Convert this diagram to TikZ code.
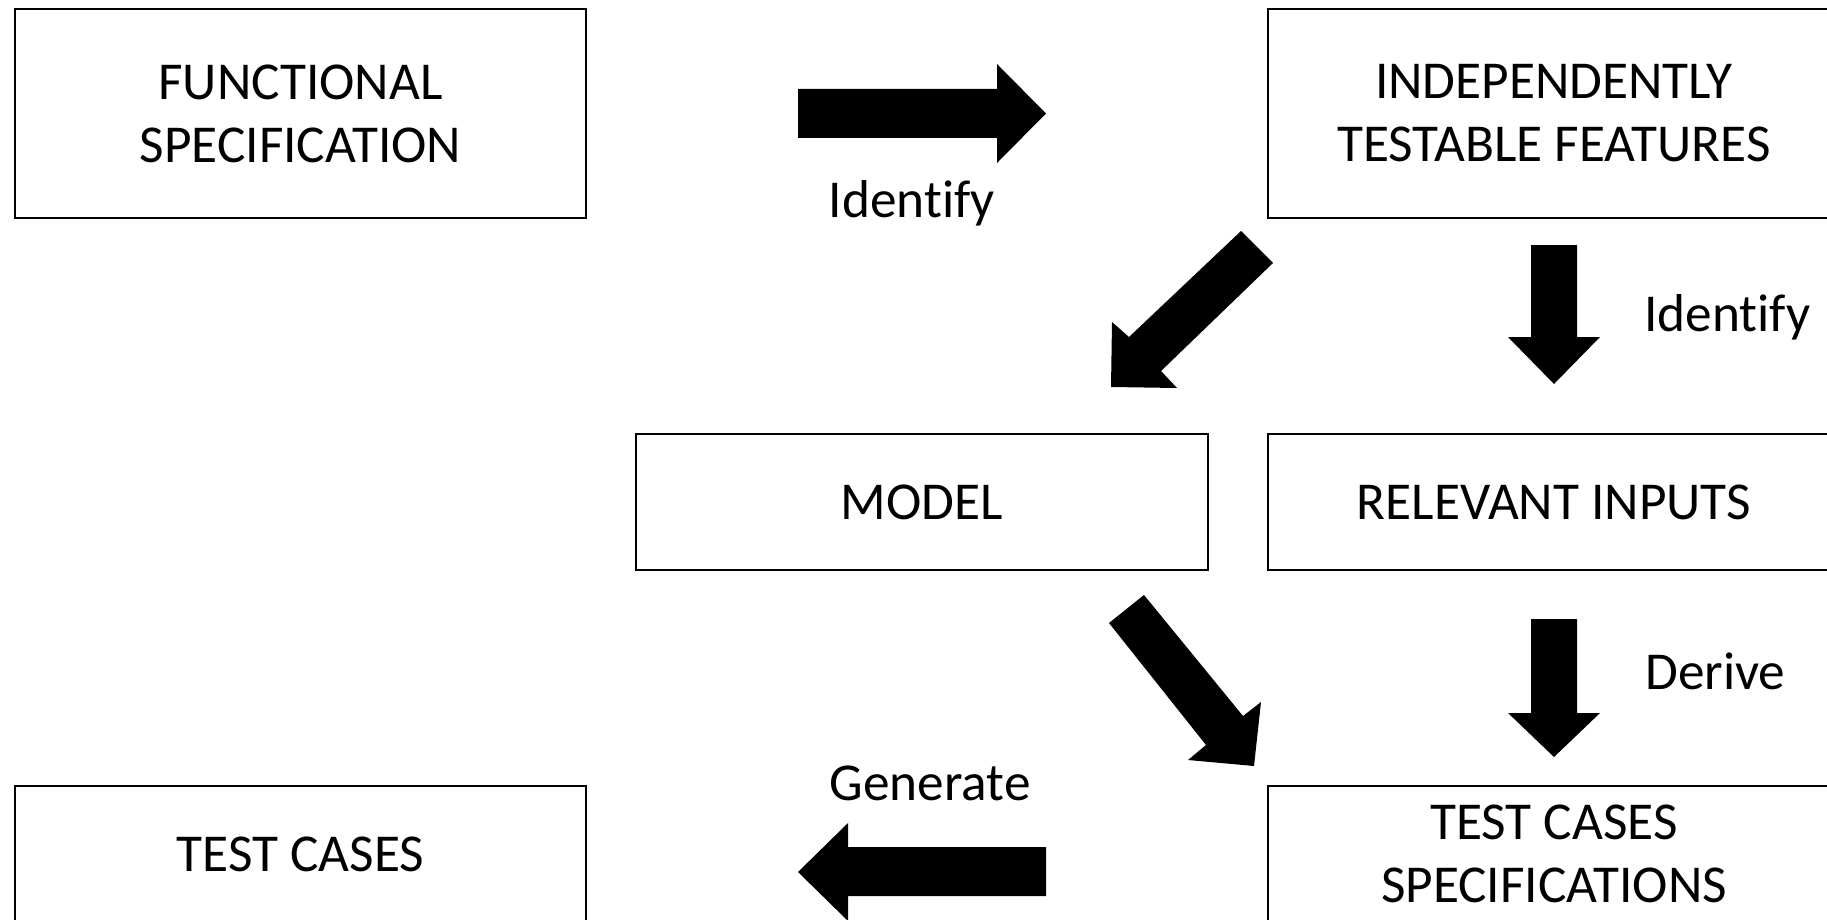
\documentclass[tikz,border=0pt]{standalone}
\usepackage{fontspec}
\setmainfont{Carlito}[Ligatures={NoCommon}]
\begin{document}
\begin{tikzpicture}[x=1pt,y=-1pt,
  box/.style={draw=black, line width=2.5pt, rectangle, inner sep=0pt, align=center,
              font=\fontsize{53.3}{63}\selectfont},
  lbl/.style={inner sep=0pt, font=\fontsize{53.3}{63}\selectfont},
  blockarrow/.style={fill=black, draw=none}]
\useasboundingbox (0,0) rectangle (1827,920);
\clip (0,0) rectangle (1827,920);
\fill[white] (0,0) rectangle (1827,920);

% boxes
\node[box, minimum width=571pt, minimum height=209pt] (func) at (300.5,113.5) {FUNCTIONAL\\SPECIFICATION};
\node[box, minimum width=572pt, minimum height=209pt] (itf) at (1554,113.5) {INDEPENDENTLY\\TESTABLE FEATURES};
\node[box, minimum width=572pt, minimum height=136pt] (model) at (922,502) {MODEL};
\node[box, minimum width=572pt, minimum height=136pt] (rel) at (1554,502) {RELEVANT INPUTS};
\node[box, minimum width=571pt, minimum height=136pt] (tc) at (300.5,854) {TEST CASES};
\node[box, minimum width=572pt, minimum height=136pt] (tcs) at (1554,854) {TEST CASES\\SPECIFICATIONS};

% block arrows
% FUNCTIONAL SPECIFICATION -> INDEPENDENTLY TESTABLE FEATURES
\fill[blockarrow] (798,89) -- (997,89) -- (997,64) -- (1046,113.5) -- (997,163) -- (997,138) -- (798,138) -- cycle;
% INDEPENDENTLY TESTABLE FEATURES -> MODEL
\fill[blockarrow] (1241,231) -- (1273,263) -- (1161,371) -- (1177,388) -- (1111,387) -- (1112,322) -- (1129,337) -- cycle;
% INDEPENDENTLY TESTABLE FEATURES -> RELEVANT INPUTS
\fill[blockarrow] (1531,245) -- (1577,245) -- (1577,337) -- (1600,337) -- (1554,384) -- (1508,337) -- (1531,337) -- cycle;
% MODEL -> TEST CASES SPECIFICATIONS
\fill[blockarrow] (1109,623) -- (1144,595) -- (1243,716) -- (1261,702) -- (1254,766) -- (1188,760) -- (1206,745) -- cycle;
% RELEVANT INPUTS -> TEST CASES SPECIFICATIONS
\fill[blockarrow] (1531,619) -- (1577,619) -- (1577,713) -- (1600,713) -- (1554,757) -- (1508,713) -- (1531,713) -- cycle;
% TEST CASES SPECIFICATIONS -> TEST CASES
\fill[blockarrow] (1046,847) -- (848,847) -- (848,823) -- (798,872) -- (848,921) -- (848,896) -- (1046,896) -- cycle;

% labels
\node[lbl, anchor=base] (l1) at (912,217) {Identify};
\node[lbl, anchor=base west] (l2) at (1644,331) {Identify};
\node[lbl, anchor=base west] (l3) at (1645,689) {Derive};
\node[lbl, anchor=base] (l4) at (930,800) {Generate};
\end{tikzpicture}
\end{document}
